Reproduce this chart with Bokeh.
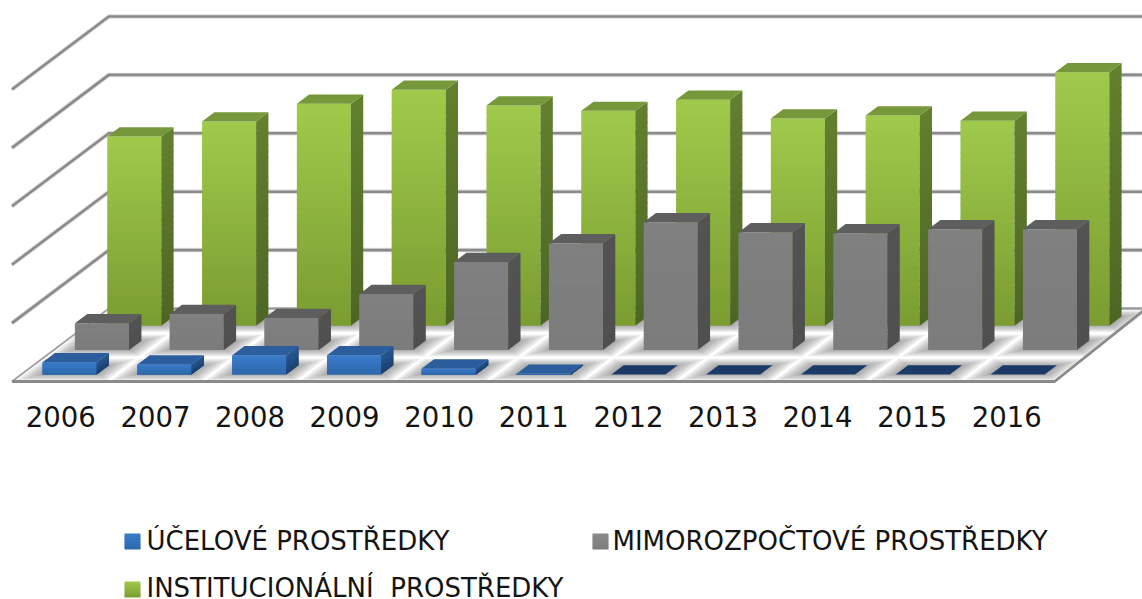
from bokeh.plotting import figure
from bokeh.models import Range1d
from bokeh.core.properties import value
from bokeh.embed import file_html
from bokeh.resources import INLINE

years = ["2006","2007","2008","2009","2010","2011","2012","2013","2014","2015","2016"]
ucelove = [21,17,33,33,10,1,0,0,0,0,0]
mimorozpoctove = [46,62,55,96,151,183,219,202,200,207,207]
institucionalni = [324,350,380,404,377,368,387,355,360,351,434]
grid_values = [100,200,300,400,500]
legend_labels = ["ÚČELOVÉ PROSTŘEDKY","MIMOROZPOČTOVÉ PROSTŘEDKY","INSTITUCIONÁLNÍ\u00a0 PROSTŘEDKY"]

# layout (image pixels)
X0, Y0, CAT_W, UNIT = 11.4, 381.0, 94.8, 0.584
RDX, RDY = 32.33/94.8, 24.33/0.584   # one depth row, in x and y data units
def cx(px): return (px-X0)/CAT_W
def vy(py): return (Y0-py)/UNIT
def P(c, v, r): return c + r*RDX, v + r*RDY

W, H = 1142, 599
p = figure(width=W, height=H, x_range=Range1d(cx(0), cx(1142)), y_range=Range1d(vy(599), vy(0)),
           toolbar_location=None, output_backend="svg", min_border=0)
p.axis.visible = False
p.grid.visible = False
p.outline_line_color = None
p.background_fill_color = "white"

def lerp(a, b, t):
    a = [int(a[i:i+2],16) for i in (1,3,5)]
    b = [int(b[i:i+2],16) for i in (1,3,5)]
    return "#%02x%02x%02x" % tuple(round(x+(y-x)*t) for x,y in zip(a,b))

# wall grid
for v in grid_values:
    xs, ys = zip(P(0,v,0), P(0,v,3), (cx(1142), P(0,v,3)[1]))
    p.line(list(xs), list(ys), line_color="#bdbdbd", line_width=4.5, line_alpha=0.5)
    p.line(list(xs), list(ys), line_color="#8a8a8a", line_width=2.6)

# floor
RIGHT_K = 0.943
fl = [P(0,0,0), P(11,0,0), (P(11+3*RDX*RIGHT_K,0,0)[0], 3*RDY), P(0,0,3)]
p.patch([a[0] for a in fl], [a[1] for a in fl], fill_color="white", line_color=None)

# soft floor shadows
sx, sy = [], []
for r in range(3):
    for c in range(11):
        for dc, dr in [(0.19,0.25),(0.15,0.19),(0.11,0.13),(0.07,0.07),(0.03,0.02)]:
            c0, c1 = c+0.225-dc, c+0.795+dc
            r0, r1 = r+0.29-dr, r+0.67+dr
            q = [P(c0,0,r0), P(c1,0,r0), P(c1,0,r1), P(c0,0,r1)]
            sx.append([a[0] for a in q]); sy.append([a[1] for a in q])
p.patches(sx, sy, fill_color="#606060", fill_alpha=0.13, line_color=None)

# floor edges
ex = [fl[3][0], fl[0][0], fl[1][0], fl[2][0]]
ey = [fl[3][1], fl[0][1], fl[1][1], fl[2][1]]
p.line(ex[:2], ey[:2], line_color="#a0a0a0", line_width=1.8)
p.line(ex[1:], ey[1:], line_color="#8a8a8a", line_width=2.8)
p.line([fl[3][0], cx(1142)], [fl[3][1]]*2, line_color="#9a9a9a", line_width=2.4)

STRIPS = 32
def gradient_bars(values, r, front, side, top, zero_top=None):
    xs, ys, cols = [], [], []
    def add(pts, col):
        xs.append([a[0] for a in pts]); ys.append([a[1] for a in pts]); cols.append(col)
    for c, v in enumerate(values):
        c0, c1 = c+0.225, c+0.795
        r0, r1 = r+0.29, r+0.67
        for s in range(STRIPS if v > 0 else 0):
            t0, t1 = s/STRIPS, (s+1)/STRIPS
            vt, vb = v*(1-t0), max(v*(1-t1)-1.5, 0)
            if s == STRIPS-1: vb = 0
            col_f = lerp(front[0], front[1], (t0+t1)/2)
            col_s = lerp(side[0], side[1], (t0+t1)/2)
            add([P(c0,vb,r0), P(c1,vb,r0), P(c1,vt,r0), P(c0,vt,r0)], col_f)
            add([P(c1,vb,r0), P(c1,vb,r1), P(c1,vt,r1), P(c1,vt,r0)], col_s)
        tc = top if (v > 0 or zero_top is None) else zero_top
        add([P(c0,v,r0), P(c1,v,r0), P(c1,v,r1), P(c0,v,r1)], tc)
    p.patches(xs, ys, fill_color=cols, line_color=None)

gradient_bars(institucionalni, 2, ("#a0ca4b","#7a9c31"), ("#62802e","#4e6624"), "#76973a")
gradient_bars(mimorozpoctove, 1, ("#808080","#7c7c7c"), ("#535353","#4f4f4f"), "#5e5e5e")
gradient_bars(ucelove, 0, ("#3a7ccb","#2e68ac"), ("#285a98","#1e406e"), "#2c5d9c", "#1b3a68")

# year labels
FONT = value("DejaVu Sans")
p.text([cx(60.3+94.6*c) for c in range(11)], [vy(416)]*11, text=years, text_font=FONT,
       text_font_size="27.5px", text_color="#141414", text_align="center", text_baseline="middle")

# legend
swatch_colors = [("#3a7ccb","#2e68ac"),("#8a8a8a","#7c7c7c"),("#a0ca4b","#7a9c31")]
lx = [124,592,124]; ly = [533,533,581]; tx = [146,612,146]; ty = [540,540,587]
for i, lab in enumerate(legend_labels):
    xs, ys, cols = [], [], []
    for s in range(6):
        top, bot = ly[i]+s*16/6, ly[i]+(s+1.3)*16/6
        if s == 5: bot = ly[i]+16
        xs.append([cx(lx[i]),cx(lx[i]+16),cx(lx[i]+16),cx(lx[i])])
        ys.append([vy(top),vy(top),vy(bot),vy(bot)])
        cols.append(lerp(*swatch_colors[i], (s+.5)/6))
    p.patches(xs, ys, fill_color=cols, line_color=None)
    p.text([cx(tx[i])],[vy(ty[i])],text=[lab],text_font=FONT,text_font_size="26px",
           text_color="#141414", text_align="left", text_baseline="middle")

open("out.html","w").write(file_html(p, INLINE))
